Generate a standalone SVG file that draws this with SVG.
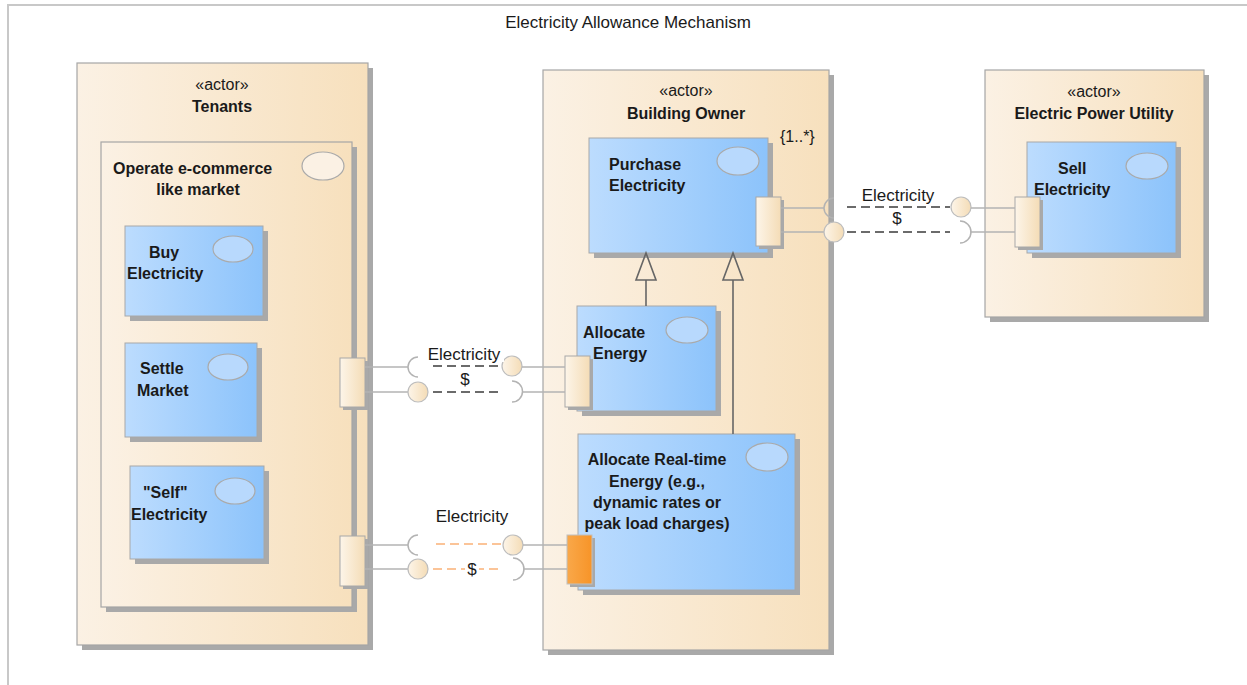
<svg xmlns="http://www.w3.org/2000/svg" width="1247" height="685" viewBox="0 0 1247 685">
<style>
text{font-family:"Liberation Sans",Arial,sans-serif;fill:#1a1a1a}
.b{font-weight:bold;font-size:16px}
.r{font-size:17px}
.c{text-anchor:middle}
.frame{fill:#fff;stroke:#c8c8c8;stroke-width:2}
.shadow{fill:#a9a9a9}
.actor{fill:url(#gActor);stroke:#a6a6a6;stroke-width:1.2}
.blue{fill:url(#gBlue);stroke:#a8a8a8;stroke-width:1}
.port{fill:url(#gPort);stroke:#a8a8a8;stroke-width:1}
.oport{fill:url(#gOrange);stroke:#c0c0c0;stroke-width:1}
.ell-b{fill:#b8d9fd;stroke:#aaaaaa;stroke-width:1.2}
.ell-t{fill:#fbf1e4;stroke:#aaaaaa;stroke-width:1.2}
.wire{fill:none;stroke:#b3b3b3;stroke-width:1.5}
.ball{fill:url(#gPort);stroke:#bdbdbd;stroke-width:1.2}
.dash{fill:none;stroke:#6b6b6b;stroke-width:1.8;stroke-dasharray:9 5}
.odash{fill:none;stroke:#fbc498;stroke-width:1.8;stroke-dasharray:9 5}
.gen{fill:none;stroke:#666;stroke-width:1.6}
</style>
<defs>
<linearGradient id="gActor" x1="0" y1="0" x2="1" y2="0"><stop offset="0" stop-color="#fbf1e4"/><stop offset="1" stop-color="#f7e0bd"/></linearGradient>
<linearGradient id="gBlue" x1="0" y1="0" x2="1" y2="0"><stop offset="0" stop-color="#bcdcfe"/><stop offset="1" stop-color="#8cc3fb"/></linearGradient>
<linearGradient id="gPort" x1="0" y1="0" x2="1" y2="0"><stop offset="0" stop-color="#fdf5e9"/><stop offset="1" stop-color="#f4dcb6"/></linearGradient>
<linearGradient id="gOrange" x1="0" y1="0" x2="1" y2="0"><stop offset="0" stop-color="#f9a84a"/><stop offset="1" stop-color="#f79428"/></linearGradient>
</defs>
<rect class="frame" x="8" y="5" width="1245" height="690"/>
<text class="r c" x="628" y="28">Electricity Allowance Mechanism</text>

<g id="tenants">
<rect class="shadow" x="82" y="68" width="291" height="582"/>
<rect class="actor" x="77" y="63" width="291" height="582"/>
<text class="r c" x="222" y="90" style="font-size:16px">«actor»</text>
<text class="b c" x="222" y="112">Tenants</text>
</g>
<g id="operate-market">
<rect class="shadow" x="106" y="147" width="251" height="465"/>
<rect class="actor" x="101" y="142" width="251" height="465"/>
<ellipse class="ell-t" cx="323" cy="166" rx="21" ry="14"/>
<text class="b" x="113" y="174">Operate e-commerce</text>
<text class="b c" x="198" y="195">like market</text>
<rect class="shadow" x="343" y="361" width="25" height="49"/>
<rect class="port" x="340" y="358" width="25" height="49"/>
<rect class="shadow" x="343" y="539" width="25" height="50"/>
<rect class="port" x="340" y="536" width="25" height="50"/>
</g>
<g id="buy-electricity">
<rect class="shadow" x="130" y="231" width="138" height="90"/>
<rect class="blue" x="125" y="226" width="138" height="90"/>
<ellipse class="ell-b" cx="233" cy="249" rx="20" ry="13"/>
<text class="b c" x="164" y="258">Buy</text>
<text class="b" x="127" y="279">Electricity</text>
</g>
<g id="settle-market">
<rect class="shadow" x="130" y="348" width="132" height="94"/>
<rect class="blue" x="125" y="343" width="132" height="94"/>
<ellipse class="ell-b" cx="228" cy="367" rx="20" ry="13"/>
<text class="b" x="140" y="374">Settle</text>
<text class="b" x="137" y="396">Market</text>
</g>
<g id="self-electricity">
<rect class="shadow" x="135" y="471" width="134" height="93"/>
<rect class="blue" x="130" y="466" width="134" height="93"/>
<ellipse class="ell-b" cx="235" cy="491" rx="20" ry="13"/>
<text class="b" x="143" y="498">"Self"</text>
<text class="b" x="131" y="520">Electricity</text>
</g>

<g id="building-owner">
<rect class="shadow" x="548" y="75" width="286" height="580"/>
<rect class="actor" x="543" y="70" width="286" height="580"/>
<text class="r c" x="686" y="96" style="font-size:16px">«actor»</text>
<text class="b c" x="686" y="119">Building Owner</text>
<text class="r" x="780" y="142" style="font-size:16px">{1..*}</text>
</g>
<g id="purchase-electricity">
<rect class="shadow" x="594" y="143" width="179" height="115"/>
<rect class="blue" x="589" y="138" width="179" height="115"/>
<ellipse class="ell-b" cx="738" cy="161" rx="21" ry="14"/>
<text class="b" x="609" y="170">Purchase</text>
<text class="b" x="609" y="191">Electricity</text>
<rect class="shadow" x="759" y="200" width="25" height="49"/>
<rect class="port" x="756" y="197" width="25" height="49"/>
</g>
<g id="allocate-energy">
<rect class="shadow" x="582" y="311" width="139" height="105"/>
<rect class="blue" x="577" y="306" width="139" height="105"/>
<ellipse class="ell-b" cx="687" cy="330" rx="21" ry="13"/>
<text class="b" x="583" y="338">Allocate</text>
<text class="b" x="593" y="359">Energy</text>
<rect class="shadow" x="568" y="359" width="25" height="51"/>
<rect class="port" x="565" y="356" width="25" height="51"/>
</g>
<g id="allocate-realtime">
<rect class="shadow" x="583" y="439" width="217" height="156"/>
<rect class="blue" x="578" y="434" width="217" height="156"/>
<ellipse class="ell-b" cx="767" cy="457" rx="21" ry="14"/>
<text class="b c" x="657" y="465">Allocate Real-time</text>
<text class="b c" x="657" y="487">Energy (e.g.,</text>
<text class="b c" x="657" y="508">dynamic rates or</text>
<text class="b c" x="657" y="529">peak load charges)</text>
<rect class="shadow" x="570" y="538" width="25" height="49"/>
<rect class="oport" x="567" y="535" width="25" height="49"/>
</g>

<g id="electric-power-utility">
<rect class="shadow" x="990" y="75" width="219" height="247"/>
<rect class="actor" x="985" y="70" width="219" height="247"/>
<text class="r c" x="1094" y="97" style="font-size:16px">«actor»</text>
<text class="b c" x="1094" y="119">Electric Power Utility</text>
</g>
<g id="sell-electricity">
<rect class="shadow" x="1032" y="147" width="149" height="111"/>
<rect class="blue" x="1027" y="142" width="149" height="111"/>
<ellipse class="ell-b" cx="1147" cy="166" rx="21" ry="13"/>
<text class="b" x="1058" y="174">Sell</text>
<text class="b" x="1034" y="195">Electricity</text>
<rect class="shadow" x="1018" y="200" width="25" height="50"/>
<rect class="port" x="1015" y="197" width="25" height="50"/>
</g>

<g id="connectors">
<line class="gen" x1="646" y1="306" x2="646" y2="280"/>
<path class="gen" d="M646 253 L656 280 L636 280 Z"/>
<line class="gen" x1="733" y1="434" x2="733" y2="280"/>
<path class="gen" d="M733 253 L743 280 L723 280 Z"/>

<line class="wire" x1="365" y1="367" x2="408" y2="367"/>
<path class="wire" d="M418 357 A10 10 0 0 0 418 377"/>
<line class="dash" x1="433" y1="366" x2="502" y2="366"/>
<circle class="ball" cx="512" cy="366" r="10"/>
<line class="wire" x1="522" y1="367" x2="565" y2="367"/>
<line class="wire" x1="365" y1="392" x2="408" y2="392"/>
<circle class="ball" cx="418" cy="392" r="10"/>
<line class="dash" x1="433" y1="392" x2="502" y2="392"/>
<path class="wire" d="M512 381 A10 10 0 0 1 512 402"/>
<line class="wire" x1="522" y1="392" x2="565" y2="392"/>
<rect x="424" y="345" width="80" height="17" fill="#fff"/>
<text class="r c" x="464" y="360">Electricity</text>
<text class="r c" x="465" y="385">$</text>

<line class="wire" x1="365" y1="545" x2="408" y2="545"/>
<path class="wire" d="M418 535 A10 10 0 0 0 418 555"/>
<line class="odash" x1="436" y1="544" x2="502" y2="544"/>
<circle class="ball" cx="513" cy="545" r="10"/>
<line class="wire" x1="523" y1="545" x2="567" y2="545"/>
<line class="wire" x1="365" y1="569" x2="408" y2="569"/>
<circle class="ball" cx="418" cy="569" r="10"/>
<line class="odash" x1="433" y1="569" x2="502" y2="569"/>
<path class="wire" d="M513 558 A10 10 0 0 1 513 580"/>
<line class="wire" x1="523" y1="569" x2="567" y2="569"/>
<text class="r c" x="472" y="522">Electricity</text>
<rect x="465" y="561" width="14" height="16" fill="#fff"/>
<text class="r c" x="472" y="575">$</text>

<line class="wire" x1="781" y1="208" x2="824" y2="208"/>
<path class="wire" d="M834 198 A10 10 0 0 0 834 218"/>
<line class="dash" x1="847" y1="207" x2="950" y2="207"/>
<circle class="ball" cx="961" cy="207" r="10"/>
<line class="wire" x1="971" y1="208" x2="1015" y2="208"/>
<line class="wire" x1="781" y1="232" x2="824" y2="232"/>
<circle class="ball" cx="834" cy="232" r="10"/>
<line class="dash" x1="847" y1="232" x2="950" y2="232"/>
<path class="wire" d="M960 221 A10 10 0 0 1 960 243"/>
<line class="wire" x1="970" y1="232" x2="1015" y2="232"/>
<rect x="857" y="185" width="82" height="18" fill="#fff"/>
<text class="r c" x="898" y="201">Electricity</text>
<text class="r c" x="897" y="224">$</text>
</g>
</svg>
